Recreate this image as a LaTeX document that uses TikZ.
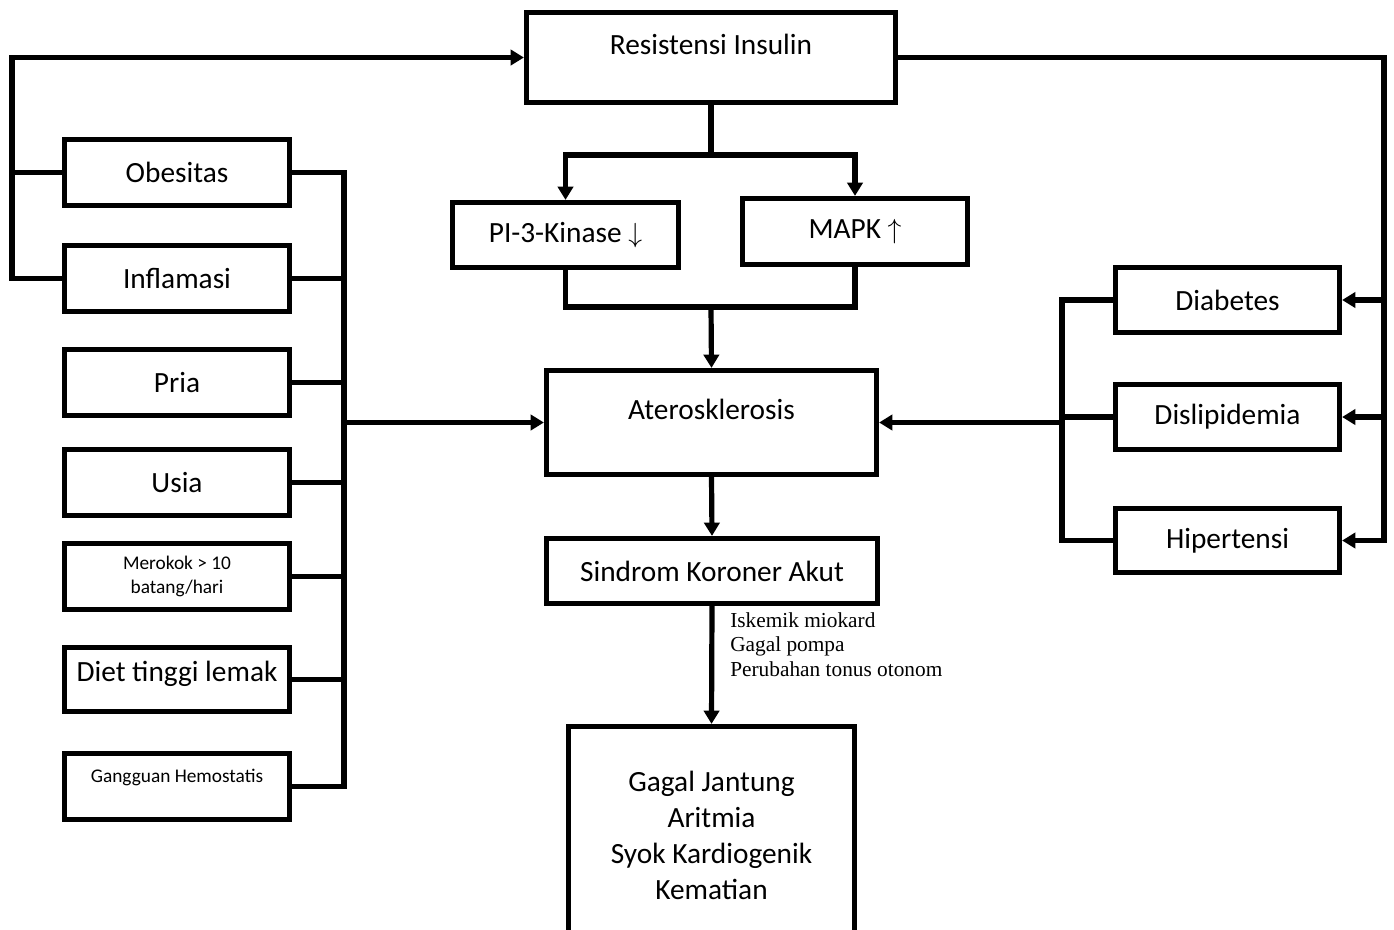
\documentclass[tikz,border=0pt]{standalone}
\usepackage{fontspec}
\setmainfont{Carlito}
\newfontfamily\serifket{Liberation Serif}
\usetikzlibrary{arrows.meta}

\tikzset{
  kotak/.style={draw, line width=3.9pt, inner sep=0pt, align=center,
    font=\fontsize{22}{26}\selectfont},
  kiri/.style={kotak, minimum width=168.75pt, minimum height=49.5pt},
  kanan/.style={kotak, minimum width=168pt, minimum height=48.75pt},
  kecil/.style={font=\fontsize{14.5}{18}\selectfont},
  garis/.style={line width=3.9pt, line cap=rect},
  panah/.style={line width=3.9pt, -{Triangle[length=10pt,width=11.5pt]}}
}

\begin{document}
\begin{tikzpicture}[x=0.75pt,y=-0.75pt]
  \useasboundingbox (0,0) rectangle (1394,929);

  % tengah
  \node[kotak, minimum width=276.75pt, minimum height=67.5pt, text depth=19.5pt] (res) at (711,57.5) {Resistensi Insulin};
  \node[kotak, minimum width=169.5pt, minimum height=48.75pt] (pik) at (565.5,235) {PI-3-Kinase $\downarrow$};
  \node[kotak, minimum width=168.75pt, minimum height=49.5pt] (mapk) at (855,231.5) {MAPK $\uparrow$};
  \node[kotak, minimum width=247.5pt, minimum height=78pt, text depth=19.5pt] (ater) at (711.5,422.5) {Aterosklerosis};
  \node[kotak, minimum width=248.25pt, minimum height=48.75pt] (ska) at (712,571) {Sindrom Koroner Akut};
  \node[kotak, minimum width=214.5pt, minimum height=163.5pt, font=\fontsize{22}{27}\selectfont] (akhir) at (711.5,835.5)
    {Gagal Jantung\\Aritmia\\Syok Kardiogenik\\Kematian};
  \node[anchor=north west, align=left, inner sep=0pt, font=\serifket\fontsize{16}{18.4}\selectfont] (ket) at (730,612)
    {Iskemik miokard\\Gagal pompa\\Perubahan tonus otonom};

  % kiri
  \node[kiri] (obe) at (177,172.5) {Obesitas};
  \node[kiri] (inf) at (177,278.5) {Inflamasi};
  \node[kiri] (pria) at (177,382.5) {Pria};
  \node[kiri] (usia) at (177,482.5) {Usia};
  \node[kiri, kecil] (rokok) at (177,576.5) {Merokok \textgreater{} 10\\batang/hari};
  \node[kiri, minimum height=48pt, text depth=13pt] (diet) at (177,679.5) {Diet tinggi lemak};
  \node[kiri, kecil, text depth=16pt] (ggn) at (177,786.5) {Gangguan Hemostatis};

  % kanan
  \node[kanan] (diab) at (1227.5,300) {Diabetes};
  \node[kanan] (disl) at (1227.5,417) {Dislipidemia};
  \node[kanan, minimum height=48pt] (hip) at (1227.5,540.5) {Hipertensi};

  \coordinate (lloop) at (12,57.5);
  \coordinate (lbus) at (344,422.5);
  \coordinate (cabang) at (711,155);
  \coordinate (gabung) at (711,307);
  \coordinate (rtop) at (1384,57.5);
  \coordinate (rbus) at (1062,422.5);

  \draw[panah] (inf.west) -| (lloop) -- (res.west);
  \draw[garis] (obe.west) -- (obe.west -| lloop);

  \draw[garis] (obe.east) -| (lbus);
  \draw[garis] (ggn.east) -| (lbus);
  \foreach \n in {inf,pria,usia,rokok,diet}
    \draw[garis] (\n.east) -- (\n.east -| lbus);
  \draw[panah] (lbus) -- (ater.west);

  \draw[garis] (res.south) -- (cabang);
  \draw[panah] (cabang) -| (pik.north);
  \draw[panah] (cabang) -| (mapk.north);
  \draw[garis] (pik.south) |- (gabung);
  \draw[garis] (mapk.south) |- (gabung);
  \draw[panah] (gabung) -- (ater.north);

  \draw[panah] (ater.south) -- (ska.north);
  \draw[panah] (ska.south) -- (akhir.north);

  \draw[garis] (res.east) -- (rtop);
  \draw[panah] (rtop) |- (hip.east);
  \draw[panah] (rtop |- diab.east) -- (diab.east);
  \draw[panah] (rtop |- disl.east) -- (disl.east);

  \draw[garis] (diab.west) -| (rbus);
  \draw[garis] (hip.west) -| (rbus);
  \draw[garis] (disl.west) -- (disl.west -| rbus);
  \draw[panah] (rbus) -- (ater.east);
\end{tikzpicture}
\end{document}
